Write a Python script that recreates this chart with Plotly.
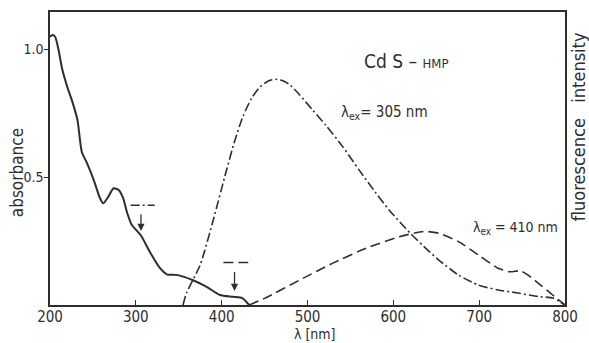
import plotly.graph_objects as go

# ---- data ----
abs_wl = [200, 203, 206, 210, 214, 220, 226, 232, 237, 243, 251, 258, 262, 268, 274, 280, 285, 290, 295, 300, 306,
          317, 328, 336, 349, 366, 382, 398, 413, 424, 432]
abs_val = [1.05, 1.057, 1.05, 0.998, 0.927, 0.855, 0.796, 0.724, 0.6, 0.556, 0.489, 0.42, 0.398, 0.424, 0.457,
           0.45, 0.42, 0.36, 0.315, 0.295, 0.272, 0.204, 0.145, 0.12, 0.117, 0.098, 0.072, 0.039, 0.032, 0.027, 0.0]

ex305_wl = [355, 359, 375, 390, 405, 415, 425, 435, 445, 455, 463, 472, 480, 491, 506, 521, 541, 560, 580, 595,
            620, 640, 653, 676, 699, 722, 745, 769, 786, 800]
ex305_val = [0.0, 0.047, 0.157, 0.33, 0.52, 0.64, 0.74, 0.81, 0.855, 0.878, 0.884, 0.877, 0.86, 0.822, 0.763,
             0.705, 0.62, 0.529, 0.437, 0.372, 0.28, 0.215, 0.176, 0.117, 0.078, 0.059, 0.047, 0.033, 0.027, 0.0]

ex410_wl = [432, 450, 491, 529, 568, 607, 635, 653, 676, 699, 722, 736, 748, 757, 769, 781, 800]
ex410_val = [0.0, 0.026, 0.098, 0.163, 0.222, 0.267, 0.288, 0.281, 0.248, 0.196, 0.144, 0.13, 0.134, 0.117, 0.085,
             0.052, 0.0]

# excitation markers: legend segment (x0, x1, y) and arrow (x, y_from, y_to)
mark305_seg = [294, 322, 0.39]
mark305_arrow = [306, 0.36, 0.29]
mark410_seg = [402, 431, 0.166]
mark410_arrow = [415, 0.135, 0.055]

x_ticks = [200, 300, 400, 500, 600, 700, 800]
y_ticks = [0.5, 1.0]
y_ticklabels = ["0.5", "1.0"]

INK = "#2e2e2e"
FONT = "DejaVu Sans Condensed, Liberation Sans Narrow, Arial Narrow, sans-serif"
TICKFONT = "Liberation Sans Narrow, DejaVu Sans Condensed, Arial Narrow, sans-serif"

fig = go.Figure()

fig.add_trace(go.Scatter(x=abs_wl, y=abs_val, mode="lines", line=dict(color=INK, width=2, shape="spline", smoothing=0.6),
                         name="absorbance", showlegend=False))
fig.add_trace(go.Scatter(x=ex305_wl, y=ex305_val, mode="lines", yaxis="y2",
                         line=dict(color=INK, width=1.6, dash="9px,3px,2px,3px", shape="spline", smoothing=0.6),
                         name="λex = 305 nm", showlegend=False))
fig.add_trace(go.Scatter(x=ex410_wl, y=ex410_val, mode="lines", yaxis="y2",
                         line=dict(color=INK, width=1.6, dash="10px,5px", shape="spline", smoothing=0.6),
                         name="λex = 410 nm", showlegend=False))

# marker segments
fig.add_trace(go.Scatter(x=[mark305_seg[0], mark305_seg[1]], y=[mark305_seg[2], mark305_seg[2]], mode="lines",
                         line=dict(color=INK, width=1.5, dash="9px,3px,2px,3px"), showlegend=False, hoverinfo="skip"))
fig.add_trace(go.Scatter(x=[mark410_seg[0], mark410_seg[1]], y=[mark410_seg[2], mark410_seg[2]], mode="lines",
                         line=dict(color=INK, width=1.5, dash="10px,5px"), showlegend=False, hoverinfo="skip"))

for ax_, y_from, y_to in [mark305_arrow, mark410_arrow]:
    fig.add_annotation(x=ax_, y=y_to, ax=ax_, ay=y_from, xref="x", yref="y", axref="x", ayref="y",
                       showarrow=True, arrowhead=2, arrowsize=1.1, arrowwidth=1.3, arrowcolor=INK, text="")

fig.add_annotation(x=563, y=0.955, xref="x", yref="y", xanchor="left", yanchor="middle", showarrow=False,
                   text="Cd S – <span style='font-size:13px'>HMP</span>",
                   font=dict(family=FONT, size=19, color=INK))
fig.add_annotation(x=537, y=0.752, xref="x", yref="y", xanchor="left", yanchor="middle",
                   showarrow=False, text="λ<sub>ex</sub>= 305 nm", font=dict(family=FONT, size=15, color=INK))
fig.add_annotation(x=690, y=0.3, xref="x", yref="y", xanchor="left", yanchor="middle",
                   showarrow=False, text="λ<sub>ex</sub> = 410 nm", font=dict(family=FONT, size=14, color=INK))

# axis titles
fig.add_annotation(x=-0.064, y=0.45, xref="paper", yref="paper", xanchor="center", yanchor="middle",
                   showarrow=False, textangle=-90, text="absorbance",
                   font=dict(family=FONT, size=17, color=INK))
fig.add_annotation(x=1.025, y=0.61, xref="paper", yref="paper", xanchor="center", yanchor="middle",
                   showarrow=False, textangle=-90, text="fluorescence\u00a0\u00a0 intensity",
                   font=dict(family=FONT, size=18, color=INK))
fig.add_annotation(x=0.515, y=-0.098, xref="paper", yref="paper", xanchor="center", yanchor="middle",
                   showarrow=False, text="λ [nm]", font=dict(family=FONT, size=14, color=INK))

fig.update_layout(
    width=589, height=343,
    margin=dict(l=50, r=24, t=12, b=38),
    paper_bgcolor="white", plot_bgcolor="white",
    font=dict(family=FONT, size=16, color=INK),
    xaxis=dict(range=[200, 800], tickvals=x_ticks, ticks="inside", ticklen=5, tickcolor=INK, automargin=False,
               tickfont=dict(family=TICKFONT, size=15), ticklabelstandoff=-3,
               showline=True, linecolor=INK, linewidth=1.5, mirror=True, showgrid=False, zeroline=False),
    yaxis=dict(range=[0, 1.147], tickvals=y_ticks, ticktext=y_ticklabels, ticks="outside", ticklen=4, tickcolor=INK,
               tickfont=dict(family=TICKFONT, size=14), automargin=False, ticklabelstandoff=-2,
               showline=True, linecolor=INK, linewidth=1.5, showgrid=False, zeroline=False),
    yaxis2=dict(range=[0, 1.147], overlaying="y", side="right", showticklabels=False, ticks="", automargin=False,
                showline=True, linecolor=INK, linewidth=1.5, showgrid=False, zeroline=False),
)

fig.write_html("out.html")
